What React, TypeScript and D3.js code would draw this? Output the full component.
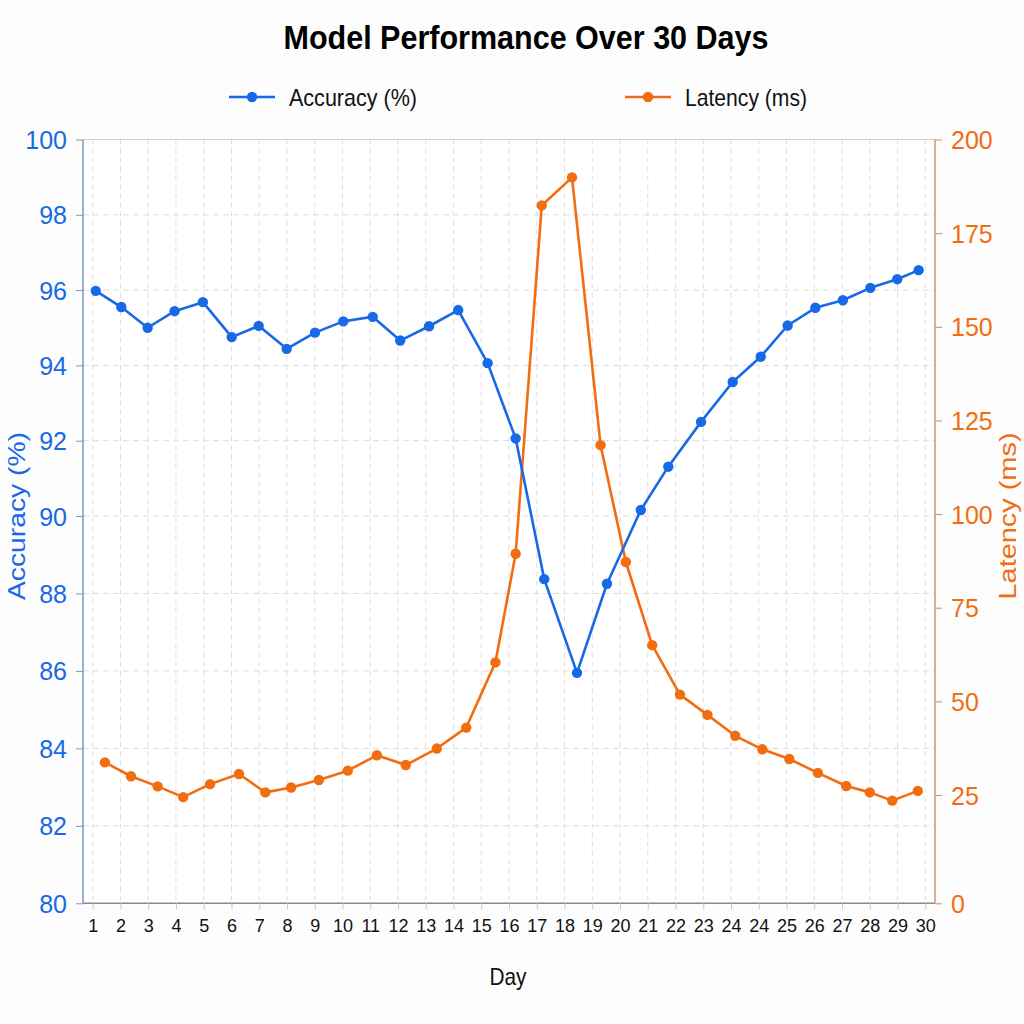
import React, { useEffect, useRef } from "react";
import * as d3 from "d3";

const tickLabels = ["1","2","3","4","5","6","7","8","9","10","11","12","13","14","15","16","17","18","19","20","21","22","23","24","24","25","26","27","28","29","30"];

const accuracyPos = [1.11,2.03,2.98,3.95,4.97,6.01,6.98,7.99,9.01,10.03,11.09,12.08,13.12,14.17,15.23,16.24,17.27,18.45,19.53,20.75,21.74,22.92,24.06,25.07,26.04,27.04,28.03,29.02,29.99,30.76];
const accuracy = [95.98,95.55,95.0,95.44,95.68,94.75,95.05,94.44,94.87,95.17,95.29,94.66,95.04,95.47,94.06,92.06,88.37,85.95,88.25,90.16,91.31,92.5,93.56,94.23,95.06,95.53,95.73,96.06,96.29,96.53];

const latencyPos = [1.44,2.38,3.34,4.26,5.23,6.27,7.22,8.15,9.15,10.19,11.24,12.28,13.4,14.46,15.51,16.24,17.18,18.27,19.3,20.21,21.16,22.16,23.15,24.15,25.13,26.1,27.13,28.15,29.0,29.81,30.73];
const latency = [33.7,30.0,27.3,24.5,27.9,30.6,25.7,27.0,29.0,31.5,35.6,33.0,37.4,43.0,60.4,89.4,182.4,189.9,118.4,87.2,65.0,51.8,46.4,40.8,37.2,34.6,30.9,27.4,25.7,23.7,26.1];

const leftTicks = [80,82,84,86,88,90,92,94,96,98,100];
const rightTicks = [0,25,50,75,100,125,150,175,200];

const BLUE = "#1769e8";
const ORANGE = "#f26d10";
const FONT = "'Liberation Sans', Arial, sans-serif";
const NARROW = "'Liberation Sans Narrow', 'Liberation Sans', Arial, sans-serif";

export default function App() {
  const ref = useRef<SVGSVGElement>(null);
  useEffect(() => {
    const svg = d3.select(ref.current);
    svg.selectAll("*").remove();
    const L = 83, R = 935, T = 139.5, B = 903.3;

    const x = d3.scaleLinear().domain([1, 31]).range([92.7, 925.3]);
    const yL = d3.scaleLinear().domain([80, 90, 100]).range([B, 516, T]);
    const yR = d3.scaleLinear().domain([0, 25, 200]).range([B, 795, T]);

    svg.append("rect").attr("width", 1024).attr("height", 1024).attr("fill", "#fdfdfd");
    svg.append("rect").attr("x", L).attr("y", T).attr("width", R - L).attr("height", B - T).attr("fill", "#ffffff");

    // grid
    const grid = svg.append("g");
    grid.selectAll("line.v").data(tickLabels).join("line")
      .attr("x1", (_, i) => x(i + 1)).attr("x2", (_, i) => x(i + 1))
      .attr("y1", T).attr("y2", B)
      .attr("stroke", "#dedede").attr("stroke-width", 1).attr("stroke-dasharray", "5,4");
    grid.selectAll("line.h").data(leftTicks.slice(1, -1)).join("line")
      .attr("x1", L).attr("x2", R)
      .attr("y1", d => yL(d)).attr("y2", d => yL(d))
      .attr("stroke", "#dcdcdc").attr("stroke-width", 1).attr("stroke-dasharray", "6,4");
    svg.append("line").attr("x1", L).attr("x2", R).attr("y1", T).attr("y2", T).attr("stroke", "#d0d0d0").attr("stroke-width", 1.2);

    // axes
    const xAxis = svg.append("g").attr("transform", `translate(0,${B})`)
      .call(d3.axisBottom(x).tickValues(d3.range(1, 32)).tickFormat((d, i) => tickLabels[i]).tickSize(6).tickPadding(10));
    xAxis.select(".domain").attr("d", `M${L},0H${R}`).attr("stroke", "#8a8a8a").attr("stroke-width", 1.5);
    xAxis.selectAll(".tick line").attr("stroke", "#c8c8c8");
    xAxis.selectAll(".tick text").attr("font-family", NARROW).attr("font-size", 18).attr("fill", "#111");

    const lAxis = svg.append("g").attr("transform", `translate(${L},0)`)
      .call(d3.axisLeft(yL).tickValues(leftTicks).tickFormat(d3.format("d")).tickSize(7).tickPadding(9));
    lAxis.select(".domain").attr("d", `M0,${T}V${B}`).attr("stroke", "#7f94c4").attr("stroke-width", 1.5);
    lAxis.selectAll(".tick line").attr("stroke", "#7f94c4");
    lAxis.selectAll(".tick text").attr("font-family", NARROW).attr("font-size", 25).attr("fill", BLUE).attr("dy", "0.36em");

    const rAxis = svg.append("g").attr("transform", `translate(${R},0)`)
      .call(d3.axisRight(yR).tickValues(rightTicks).tickFormat(d3.format("d")).tickSize(7).tickPadding(9));
    rAxis.select(".domain").attr("d", `M0,${T}V${B}`).attr("stroke", "#c49a80").attr("stroke-width", 1.5);
    rAxis.selectAll(".tick line").attr("stroke", "#d08a60");
    rAxis.selectAll(".tick text").attr("font-family", NARROW).attr("font-size", 25).attr("fill", ORANGE).attr("dy", "0.36em");

    // lines
    const accData = accuracy.map((v, i) => ({ x: accuracyPos[i], y: v }));
    const latData = latency.map((v, i) => ({ x: latencyPos[i], y: v }));
    const accLine = d3.line<{ x: number; y: number }>().x(d => x(d.x)).y(d => yL(d.y));
    const latLine = d3.line<{ x: number; y: number }>().x(d => x(d.x)).y(d => yR(d.y));

    svg.append("path").attr("d", latLine(latData)).attr("fill", "none").attr("stroke", ORANGE).attr("stroke-width", 2.6).attr("stroke-linejoin", "round");
    svg.append("g").selectAll("circle").data(latData).join("circle")
      .attr("cx", d => x(d.x)).attr("cy", d => yR(d.y)).attr("r", 5.2).attr("fill", ORANGE);

    svg.append("path").attr("d", accLine(accData)).attr("fill", "none").attr("stroke", BLUE).attr("stroke-width", 2.6).attr("stroke-linejoin", "round");
    svg.append("g").selectAll("circle").data(accData).join("circle")
      .attr("cx", d => x(d.x)).attr("cy", d => yL(d.y)).attr("r", 5.2).attr("fill", BLUE);

    // title
    svg.append("text").attr("x", 526).attr("y", 49).attr("text-anchor", "middle")
      .attr("font-family", FONT).attr("font-weight", "bold").attr("font-size", 33)
      .attr("textLength", 485).attr("lengthAdjust", "spacingAndGlyphs").attr("fill", "#000")
      .text("Model Performance Over 30 Days");

    // legend
    const legend = [
      { label: "Accuracy (%)", color: BLUE, x0: 229, len: 128 },
      { label: "Latency (ms)", color: ORANGE, x0: 625, len: 122 },
    ];
    const lg = svg.append("g");
    legend.forEach(l => {
      lg.append("line").attr("x1", l.x0).attr("x2", l.x0 + 46).attr("y1", 97).attr("y2", 97).attr("stroke", l.color).attr("stroke-width", 2.6);
      lg.append("circle").attr("cx", l.x0 + 23).attr("cy", 97).attr("r", 5.2).attr("fill", l.color);
      lg.append("text").attr("x", l.x0 + 60).attr("y", 106).attr("font-family", FONT).attr("font-size", 24)
        .attr("textLength", l.len).attr("lengthAdjust", "spacingAndGlyphs").attr("fill", "#111").text(l.label);
    });

    // axis titles
    svg.append("text").attr("transform", "translate(25,516) rotate(-90)").attr("text-anchor", "middle")
      .attr("font-family", FONT).attr("font-size", 24).attr("fill", BLUE)
      .attr("textLength", 168).attr("lengthAdjust", "spacingAndGlyphs").text("Accuracy (%)");
    svg.append("text").attr("transform", "translate(1016,516) rotate(-90)").attr("text-anchor", "middle")
      .attr("font-family", FONT).attr("font-size", 24).attr("fill", ORANGE)
      .attr("textLength", 167).attr("lengthAdjust", "spacingAndGlyphs").text("Latency (ms)");
    svg.append("text").attr("x", 508).attr("y", 985).attr("text-anchor", "middle")
      .attr("font-family", FONT).attr("font-size", 24).attr("fill", "#111")
      .attr("textLength", 37).attr("lengthAdjust", "spacingAndGlyphs").text("Day");
  }, []);

  return (
    <svg ref={ref} width={1024} height={1024} style={{ position: "absolute", left: 0, top: 0 }} />
  );
}
